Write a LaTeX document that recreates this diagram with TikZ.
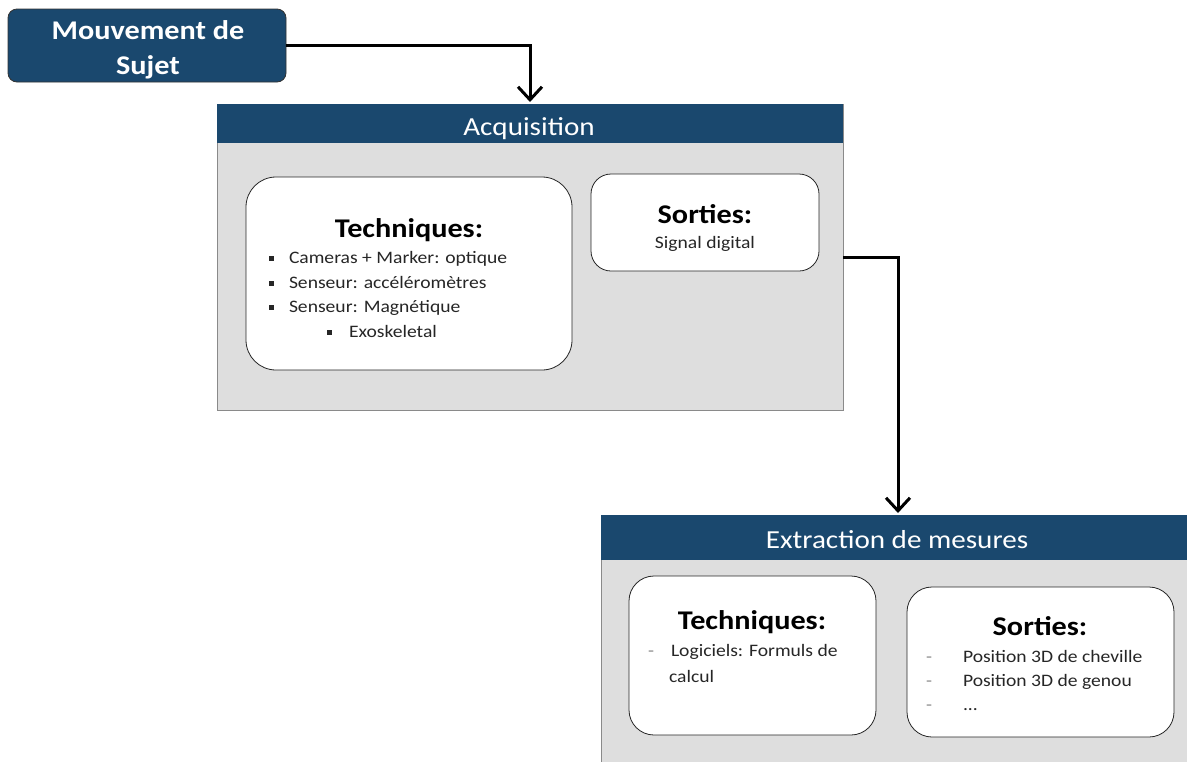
\documentclass[tikz,border=0pt]{standalone}
\usepackage{fontspec}
\setmainfont{Carlito}[FakeStretch=1.12]
\usetikzlibrary{arrows.meta}
\definecolor{hdr}{HTML}{1A486E}
\definecolor{bodyg}{HTML}{DEDEDE}
\definecolor{edge}{HTML}{8A8A8A}
\newcommand{\bul}{\raisebox{2.5pt}{\rule{5pt}{5pt}}}
\tikzset{
  every node/.style={inner sep=0pt, outer sep=0pt},
  topbox/.style={draw=black!80, line width=0.8pt, fill=hdr, rounded corners=9pt},
  toptext/.style={text=white, anchor=base, font=\bfseries\fontsize{27}{34}\selectfont},
  panel/.style={draw=edge, line width=1pt, fill=bodyg},
  header/.style={fill=hdr},
  htext/.style={text=white, anchor=base, font=\fontsize{26}{30}\selectfont},
  inbox/.style={draw=black!85, line width=0.8pt, fill=white},
  ttl/.style={anchor=base, font=\bfseries\fontsize{27}{30}\selectfont},
  item/.style={anchor=base west, font=\fontsize{17.5}{20}\selectfont, text=black!85},
  dashmark/.style={anchor=base west, font=\fontsize{17.5}{20}\selectfont, text=black!45},
  conn/.style={line width=3pt, -{Straight Barb[length=13pt,width=24pt,line width=3pt]}, shorten >=2pt},
}
\begin{document}
\begin{tikzpicture}[x=1pt,y=-1pt]
\useasboundingbox (0,0) rectangle (1187,761);
\fill[white] (0,0) rectangle (1187,761);
% top box
\node[topbox, minimum width=278pt, minimum height=73pt] (mvt) at (147,45.5) {};
\node[toptext] (mvt1) at (148,39) {Mouvement de};
\node[toptext] (mvt2) at (148,74) {Sujet};
% Acquisition panel
\node[panel, minimum width=626pt, minimum height=306pt] (acq) at (530,257) {};
\node[header, minimum width=626pt, minimum height=39pt] (acqh) at (530,123.5) {};
\node[htext] (acqt) at (529,135) {Acquisition};
\node[inbox, rounded corners=30pt, minimum width=326pt, minimum height=193pt] (tech1) at (409,273.5) {};
\node[ttl] (tech1t) at (409,237) {Techniques:};
\node[item] (t1a) at (269,263) {\makebox[20pt][l]{\bul}Cameras + Marker: optique};
\node[item] (t1b) at (269,288) {\makebox[20pt][l]{\bul}Senseur: accéléromètres};
\node[item] (t1c) at (269,312) {\makebox[20pt][l]{\bul}Senseur: Magnétique};
\node[item] (t1d) at (327,337) {\makebox[22pt][l]{\bul}Exoskeletal};
\node[inbox, rounded corners=20pt, minimum width=228pt, minimum height=97pt] (sort1) at (705,222.5) {};
\node[ttl] (sort1t) at (705,223) {Sorties:};
\node[item, anchor=base] (s1a) at (705,248) {Signal digital};
% Extraction panel
\node[panel, minimum width=594pt, minimum height=285pt] (ext) at (898,657.5) {};
\node[header, minimum width=594pt, minimum height=45pt] (exth) at (898,537.5) {};
\node[htext] (extt) at (897,548) {Extraction de mesures};
\node[inbox, rounded corners=25pt, minimum width=247pt, minimum height=159pt] (tech2) at (752.5,655.5) {};
\node[ttl] (tech2t) at (752,629) {Techniques:};
\node[dashmark] (d2a) at (648,656) {-};
\node[item] (t2a) at (671,656) {Logiciels: Formuls de};
\node[item] (t2b) at (669,682) {calcul};
\node[inbox, rounded corners=25pt, minimum width=267pt, minimum height=150pt] (sort2) at (1040.5,662) {};
\node[ttl] (sort2t) at (1040,635) {Sorties:};
\node[dashmark] (d3a) at (926,662) {-};
\node[dashmark] (d3b) at (926,686) {-};
\node[dashmark] (d3c) at (926,710) {-};
\node[item] (s2a) at (963,662) {Position 3D de cheville};
\node[item] (s2b) at (963,686) {Position 3D de genou};
\node[item] (s2c) at (963,710) {...};
% connectors
\draw[conn] (mvt.east) -| (acqh.north);
\draw[conn] (acq.east) -| (exth.north);
\end{tikzpicture}
\end{document}
